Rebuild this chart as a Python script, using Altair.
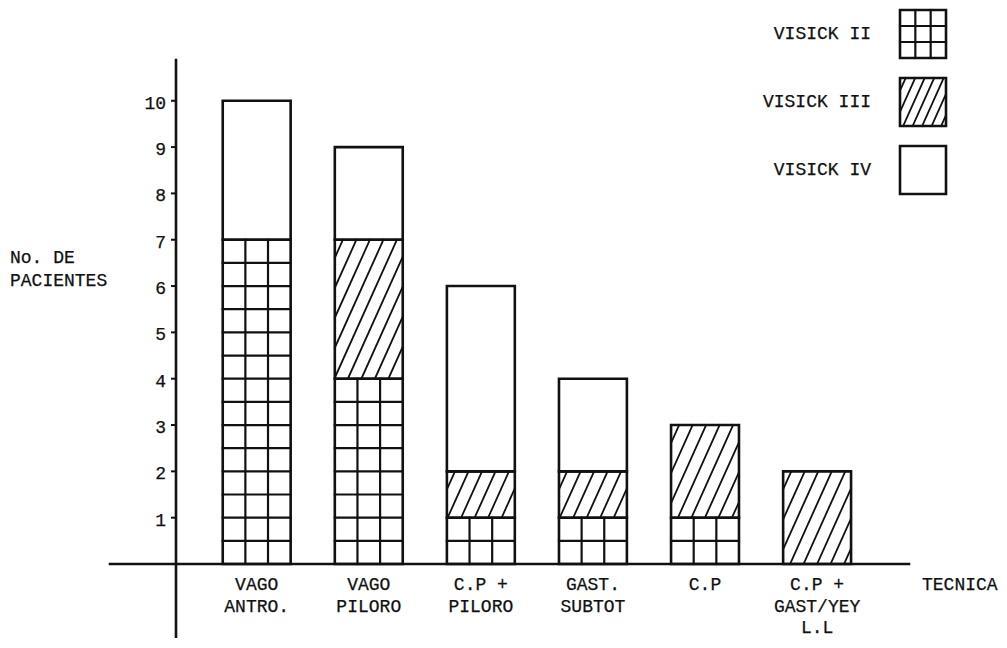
import altair as alt
import pandas as pd

# ---------------- data ----------------
categories = ["VAGO|ANTRO.", "VAGO|PILORO", "C.P +|PILORO", "GAST.|SUBTOT", "C.P", "C.P +|GAST/YEY|L.L"]
visick_ii = [7, 4, 1, 1, 1, 0]
visick_iii = [0, 3, 1, 1, 2, 2]
visick_iv = [3, 2, 4, 2, 0, 0]
grades = ["VISICK II", "VISICK III", "VISICK IV"]
patterns = ["grid", "hatch", "blank"]
y_ticks = [1, 2, 3, 4, 5, 6, 7, 8, 9, 10]
y_title = "No. DE|PACIENTES"
x_title = "TECNICA"

# ---------------- layout ----------------
PLOT_W, PLOT_H = 733, 504
X_MIN, X_MAX = -0.72, 5.82
Y_MAX = 10.88
SX = PLOT_W / (X_MAX - X_MIN)
SY = PLOT_H / Y_MAX
BAR_HALF = 0.303
FONT = "Liberation Mono"
FS = 18
INK = "#111111"
TXT = dict(font=FONT, fontSize=FS, color=INK, stroke=INK, strokeWidth=0.25)


def px_x(px):
    return X_MIN + px / SX


def px_y(py):
    return Y_MAX - py / SY


# bar segments
seg_rows = []
for i, cat in enumerate(categories):
    base = 0
    for g, vals, pat in zip(grades, [visick_ii, visick_iii, visick_iv], patterns):
        v = vals[i]
        if v > 0:
            seg_rows.append(dict(x0=i - BAR_HALF, x1=i + BAR_HALF, y0=base, y1=base + v,
                                 pattern=pat, kind="bar"))
            base += v

# legend boxes
leg_rows = []
for j, (g, pat) in enumerate(zip(grades, patterns)):
    top = -50 + 68 * j
    leg_rows.append(dict(x0=px_x(724), x1=px_x(770), y0=px_y(top + 48), y1=px_y(top),
                         pattern=pat, kind="legend", label=g,
                         yc=(px_y(top + 48) + px_y(top)) / 2))

rects = pd.DataFrame(seg_rows + leg_rows)
legend_df = pd.DataFrame(leg_rows)

# pattern lines
lines = []


def grid_lines(r, legend):
    x0, x1, y0, y1 = r["x0"], r["x1"], r["y0"], r["y1"]
    if legend:
        ys = [y0 + (y1 - y0) * k / 3 for k in (1, 2)]
    else:
        ys = []
        y = y0 + 0.5
        while y < y1 - 1e-6:
            ys.append(y)
            y += 0.5
    for y in ys:
        lines.append(dict(xa=x0, xb=x1, ya=y, yb=y, sw=2.2))
    for k in (1, 2):
        x = x0 + (x1 - x0) * k / 3
        lines.append(dict(xa=x, xb=x, ya=y0, yb=y1, sw=2.2))


def hatch_lines(r, spacing, slope=0.45):
    X0, X1 = r["x0"] * SX, r["x1"] * SX
    Y0, Y1 = r["y0"] * SY, r["y1"] * SY
    c = X0 - slope * Y1 + spacing * 0.6
    while c < X1 - slope * Y0:
        ya = max(Y0, (X0 - c) / slope)
        yb = min(Y1, (X1 - c) / slope)
        if yb - ya > 1.0:
            lines.append(dict(xa=(c + slope * ya) / SX, xb=(c + slope * yb) / SX,
                              ya=ya / SY, yb=yb / SY, sw=1.8))
        c += spacing


for r in seg_rows + leg_rows:
    leg = r["kind"] == "legend"
    if r["pattern"] == "grid":
        grid_lines(r, leg)
    elif r["pattern"] == "hatch":
        hatch_lines(r, 9.5 if leg else 13.5)

# axis lines and tick nubs
lines.append(dict(xa=px_x(-66), xb=X_MAX, ya=0, yb=0, sw=2.6))
lines.append(dict(xa=X_MIN, xb=X_MIN, ya=px_y(578), yb=Y_MAX, sw=2.6))
for t in y_ticks:
    lines.append(dict(xa=px_x(-4), xb=X_MIN, ya=t, yb=t, sw=2))

lines_df = pd.DataFrame(lines)
ticks_df = pd.DataFrame({"t": y_ticks, "lab": [str(t) for t in y_ticks]})
cats_df = pd.DataFrame({"idx": list(range(len(categories))), "lab": categories})

xs = alt.Scale(domain=[X_MIN, X_MAX], nice=False, zero=False)
ys = alt.Scale(domain=[0, Y_MAX], nice=False, zero=False)

fill_layer = alt.Chart(rects).mark_rect(fill="white", strokeWidth=0).encode(
    x=alt.X("x0:Q", scale=xs, axis=None), x2="x1:Q",
    y=alt.Y("y0:Q", scale=ys, axis=None), y2="y1:Q")

line_layer = alt.Chart(lines_df).mark_rule(color=INK, strokeCap="square").encode(
    x=alt.X("xa:Q", scale=xs, axis=None), x2="xb:Q",
    y=alt.Y("ya:Q", scale=ys, axis=None), y2="yb:Q",
    strokeWidth=alt.StrokeWidth("sw:Q", scale=None, legend=None))

outline_layer = alt.Chart(rects).mark_rect(fillOpacity=0, stroke=INK, strokeWidth=2.6).encode(
    x=alt.X("x0:Q", scale=xs, axis=None), x2="x1:Q",
    y=alt.Y("y0:Q", scale=ys, axis=None), y2="y1:Q")

tick_labels = alt.Chart(ticks_df).mark_text(align="right", baseline="middle", dy=3, **TXT).encode(
    x=alt.value(-10), y=alt.Y("t:Q", scale=ys, axis=None), text="lab:N")

cat_labels = alt.Chart(cats_df).mark_text(align="center", baseline="top", lineBreak="|",
                                          lineHeight=21.5, **TXT).encode(
    x=alt.X("idx:Q", scale=xs, axis=None), y=alt.value(516), text="lab:N")

y_title_layer = alt.Chart(pd.DataFrame({"lab": [y_title]})).mark_text(
    align="left", baseline="top", lineBreak="|", lineHeight=22.5, **TXT).encode(
    x=alt.value(-166), y=alt.value(189), text="lab:N")

x_title_layer = alt.Chart(pd.DataFrame({"lab": [x_title]})).mark_text(
    align="left", baseline="top", **TXT).encode(
    x=alt.value(746), y=alt.value(516), text="lab:N")

legend_labels = alt.Chart(legend_df).mark_text(align="right", baseline="middle", **TXT).encode(
    x=alt.value(695), y=alt.Y("yc:Q", scale=ys, axis=None), text="label:N")

chart = alt.layer(fill_layer, line_layer, outline_layer, tick_labels, cat_labels,
                  y_title_layer, x_title_layer, legend_labels).properties(
    width=PLOT_W, height=PLOT_H,
    autosize=alt.AutoSizeParams(type="none"),
    padding={"left": 168, "top": 52, "right": 90, "bottom": 74},
    background="white",
).configure_view(stroke=None)

chart.save("out.html", embed_options={"renderer": "svg", "actions": False})
